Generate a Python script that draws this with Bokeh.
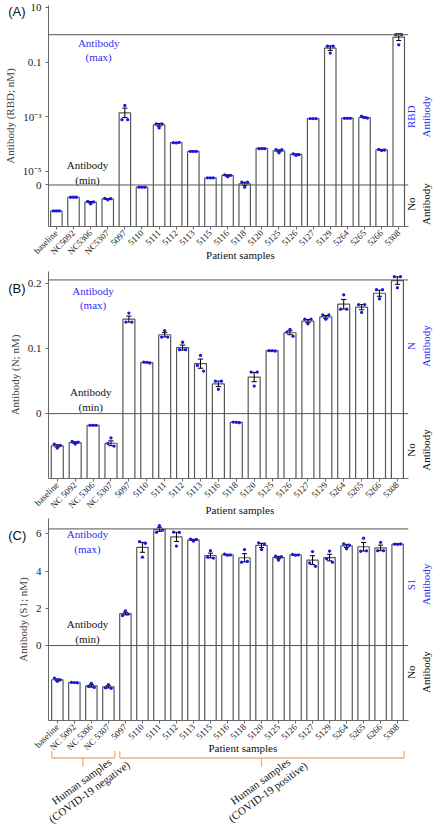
from math import pi, sqrt, sin, cos, radians
from statistics import stdev
from bokeh.plotting import figure
from bokeh.layouts import column
from bokeh.models import Range1d, FixedTicker, Span
from bokeh.core.properties import value
from bokeh.embed import file_html
from bokeh.resources import INLINE

# ---------------- data ----------------
# Panel A: RBD antibody, plotted on the chart's pseudo-log axis (log10 nM above the "0" line)
rbd_labels = ["baseline", "NC5092", "NC5306", "NC5307", "5097", "5110", "5111", "5112", "5113", "5115",
              "5116", "5118", "5120", "5125", "5126", "5127", "5129", "5264", "5265", "5266", "5308"]
rbd_bar = [-6.45, -5.95, -6.13, -6.01, -2.86, -5.58, -3.30, -3.95, -4.27, -5.24,
           -5.15, -5.46, -4.16, -4.25, -4.38, -3.07, -0.49, -3.05, -3.03, -4.21, -0.09]
rbd_rep1 = [-6.45, -5.95, -6.10, -5.99, -3.11, -5.58, -3.26, -3.95, -4.27, -5.24,
            -5.13, -5.40, -4.17, -4.21, -4.36, -3.07, -0.42, -3.06, -2.98, -4.20, 0.00]
rbd_rep2 = [-6.45, -5.95, -6.19, -6.04, -2.59, -5.58, -3.41, -3.96, -4.27, -5.24,
            -5.20, -5.58, -4.17, -4.32, -4.42, -3.07, -0.67, -3.06, -3.03, -4.24, -0.37]
rbd_rep3 = [-6.45, -5.95, -6.12, -6.00, -3.11, -5.58, -3.26, -3.94, -4.27, -5.24,
            -5.15, -5.40, -4.17, -4.21, -4.39, -3.07, -0.42, -3.06, -3.05, -4.22, 0.00]
rbd_ticks = [1, -1, -3, -5, -5.5]
rbd_tick_labels = ["10", "0.1", "10\u207b\u00b3", "10\u207b\u2075", "0"]
rbd_max_level = 0.0
rbd_zero_level = -5.5

# Panel B: N antibody (nM)
n_labels = ["baseline", "NC 5092", "NC 5306", "NC 5307", "5097", "5110", "5111", "5112", "5113", "5116",
            "5118", "5120", "5125", "5126", "5127", "5129", "5264", "5265", "5266", "5308"]
n_bar = [-0.0498, -0.0446, -0.018, -0.0457, 0.1456, 0.0788, 0.1215, 0.1018, 0.077, 0.0458,
         -0.0135, 0.0563, 0.097, 0.1246, 0.1425, 0.149, 0.1686, 0.164, 0.1855, 0.205]
n_rep1 = [-0.047, -0.043, -0.018, -0.046, 0.141, 0.0795, 0.118, 0.0985, 0.0743, 0.050,
          -0.013, 0.064, 0.097, 0.1256, 0.1455, 0.152, 0.161, 0.168, 0.191, 0.211]
n_rep2 = [-0.053, -0.047, -0.018, -0.0375, 0.155, 0.079, 0.128, 0.110, 0.0897, 0.0374,
          -0.0135, 0.0425, 0.097, 0.1297, 0.1384, 0.1455, 0.183, 0.156, 0.177, 0.194]
n_rep3 = [-0.049, -0.044, -0.018, -0.050, 0.141, 0.078, 0.118, 0.0985, 0.0655, 0.050,
          -0.014, 0.064, 0.0965, 0.1194, 0.1455, 0.152, 0.161, 0.168, 0.191, 0.211]
n_ticks = [0.2, 0.1, 0]
n_tick_labels = ["0.2", "0.1", "0"]
n_max_level = 0.206
n_zero_level = 0.0

# Panel C: S1 antibody (nM)
s1_labels = ["baseline", "NC 5092", "NC 5306", "NC 5307", "5097", "5110", "5111", "5112", "5113", "5115",
             "5116", "5118", "5120", "5125", "5126", "5127", "5129", "5264", "5265", "6266", "5308"]
s1_bar = [-1.84, -1.99, -2.17, -2.22, 1.72, 5.28, 6.25, 5.84, 5.68, 4.84,
          4.88, 4.72, 5.38, 4.73, 4.88, 4.59, 4.73, 5.36, 5.31, 5.25, 5.45]
s1_rep1 = [-1.75, -1.98, -2.20, -2.27, 1.61, 5.59, 6.09, 6.10, 5.72, 4.75,
           4.92, 4.48, 5.52, 4.80, 4.90, 4.44, 4.66, 5.47, 5.07, 5.10, 5.45]
s1_rep2 = [-1.92, -1.99, -2.03, -2.10, 1.86, 4.75, 6.45, 5.35, 5.62, 5.10,
           4.86, 5.16, 5.16, 4.60, 4.86, 5.05, 5.08, 5.20, 5.77, 5.55, 5.44]
s1_rep3 = [-1.85, -2.00, -2.25, -2.30, 1.69, 5.50, 6.20, 6.08, 5.70, 4.70,
           4.87, 4.52, 5.47, 4.78, 4.88, 4.26, 4.48, 5.40, 5.09, 5.10, 5.46]
s1_ticks = [6, 4, 2, 0]
s1_tick_labels = ["6", "4", "2", "0"]
s1_max_level = 6.27
s1_zero_level = 0.0

group_line1 = ["Human samples", "Human samples"]
group_line2 = ["(COVID-19 negative)", "(COVID-19 positive)"]
group_first = [0, 4]
group_last = [3, 20]

# ---------------- style / layout ----------------
SERIF = "Liberation Serif"
SANS = "Liberation Sans"
BLUE = "#2f2ff2"
DOT = "#1717e8"
AXIS = "#6a6a6a"
BARLINE = "#585858"
REFLINE = "#555555"
ORANGE = "#f3b07a"

W = 433
BL, BR = 42, 25
FW = W - BL - BR
OFFS = [-0.17, 0.0, 0.17]


def free_text(p, x, y, text, color, size="11px", font=SERIF, angle=0.0, align="center",
              baseline="middle"):
    # drawn at overlay level so that it is not clipped to the frame
    src = dict(x=[x], y=[y], text=[text], angle=[radians(angle)])
    p.text(x="x", y="y", text="text", angle="angle", source=src, text_color=color,
           text_font=value(font), text_font_size=size, text_align=align, text_baseline=baseline,
           text_line_height=1.2, level="overlay")


def panel(labels, bars, reps, ticks, tick_labels, max_level, zero_level, cfg):
    n = len(labels)
    xr, yr = cfg["xr"], cfg["yr"]
    top, fh, bottom = cfg["top"], cfg["fh"], cfg["bottom"]
    xpp = (xr[1] - xr[0]) / FW
    ypp = (yr[1] - yr[0]) / fh
    p = figure(width=W, height=top + fh + bottom, x_range=Range1d(*xr), y_range=Range1d(*yr),
               output_backend="svg", toolbar_location=None,
               min_border_left=BL, min_border_right=BR, min_border_top=top, min_border_bottom=bottom)
    p.outline_line_color = None
    p.grid.visible = False
    p.background_fill_color = "white"

    xs = list(range(n))
    p.vbar(x=xs, top=bars, bottom=yr[0], width=0.67, fill_color="white",
           line_color=BARLINE, line_width=1.2)

    sem = [stdev(v) / sqrt(len(v)) for v in zip(*reps)]
    lo = [b - s for b, s in zip(bars, sem)]
    hi = [b + s for b, s in zip(bars, sem)]
    p.segment(x0=xs, y0=lo, x1=xs, y1=hi, line_color="black", line_width=1)
    cl = [x - 0.15 for x in xs]
    cr = [x + 0.15 for x in xs]
    p.segment(x0=cl + cl, y0=lo + hi, x1=cr + cr, y1=lo + hi, line_color="black", line_width=1)

    for off, rep in zip(OFFS, reps):
        p.scatter(x=[x + off for x in xs], y=rep, size=3.3, fill_color=DOT, line_color=None)

    p.add_layout(Span(location=max_level, dimension="width", line_color=REFLINE, line_width=1))
    p.add_layout(Span(location=zero_level, dimension="width", line_color=REFLINE, line_width=1))

    yax = p.yaxis[0]
    yax.ticker = FixedTicker(ticks=ticks, minor_ticks=[])
    yax.major_label_overrides = {t: l for t, l in zip(ticks, tick_labels)}
    yax.axis_label = cfg["ylabel"]
    yax.axis_label_text_font = SERIF
    yax.axis_label_text_font_size = "11px"
    yax.axis_label_text_font_style = "normal"
    yax.axis_label_standoff = 4
    yax.major_label_text_font = SERIF
    yax.major_label_text_font_size = "11px"
    yax.major_label_standoff = 4
    yax.major_tick_in = 0
    yax.major_tick_out = 3

    xax = p.xaxis[0]
    xax.ticker = FixedTicker(ticks=xs, minor_ticks=[])
    xax.major_label_overrides = {i: l for i, l in enumerate(labels)}
    xax.major_label_orientation = pi / 4
    xax.major_label_text_font = SERIF
    xax.major_label_text_font_size = "9px"
    xax.major_label_standoff = 2
    xax.major_tick_in = 0
    xax.major_tick_out = 3

    for ax in (xax, yax):
        ax.axis_line_color = AXIS
        ax.major_tick_line_color = AXIS
        ax.major_label_text_color = "#222222"

    free_text(p, xr[0] - (BL - 1) * xpp, yr[1] + cfg["tag_dy"] * ypp, cfg["tag"], "#111111",
              size="13px", font=SANS, align="left", baseline="top")
    mx, my = cfg["max_pos"]
    free_text(p, mx, my, "Antibody\n(max)", BLUE)
    nx, ny = cfg["min_pos"]
    free_text(p, nx, ny, "Antibody\n(min)", "#111111")
    rx = xr[1] + 10 * xpp
    free_text(p, rx, cfg["ab_y"], cfg["ab_name"] + "\nAntibody", BLUE, angle=90)
    free_text(p, rx, cfg["no_y"], "No\nAntibody", "#111111", angle=90)
    free_text(p, cfg["xlab_x"], yr[0] - cfg["xlab_dy"] * ypp, "Patient samples", "#111111")
    return p, xpp, ypp


cfgA = dict(xr=(-0.46, 20.57), yr=(-7.02, 1.07), top=5, fh=221, bottom=38,
            ylabel="Antibody (RBD; nM)", tag="(A)", tag_dy=2,
            max_pos=(2.47, -0.56), min_pos=(1.82, -5.04), ab_name="RBD", ab_y=-3.0, no_y=-6.2,
            xlab_x=10.75, xlab_dy=28)
cfgB = dict(xr=(-0.49, 19.62), yr=(-0.1, 0.219), top=7, fh=207, bottom=38,
            ylabel="Antibody (N; nM)", tag="(B)", tag_dy=-9,
            max_pos=(2.0, 0.178), min_pos=(1.87, 0.022), ab_name="N", ab_y=0.104, no_y=-0.056,
            xlab_x=10.2, xlab_dy=31)
cfgC = dict(xr=(-0.52, 20.64), yr=(-4.03, 6.83), top=2, fh=202, bottom=104,
            ylabel="Antibody (S1; nM)", tag="(C)", tag_dy=-9,
            max_pos=(1.77, 5.59), min_pos=(1.77, 0.76), ab_name="S1", ab_y=3.28, no_y=-1.43,
            xlab_x=10.9, xlab_dy=27)

pA, _, _ = panel(rbd_labels, rbd_bar, [rbd_rep1, rbd_rep2, rbd_rep3], rbd_ticks, rbd_tick_labels,
                 rbd_max_level, rbd_zero_level, cfgA)
pB, _, _ = panel(n_labels, n_bar, [n_rep1, n_rep2, n_rep3], n_ticks, n_tick_labels,
                 n_max_level, n_zero_level, cfgB)
pC, cxpp, cypp = panel(s1_labels, s1_bar, [s1_rep1, s1_rep2, s1_rep3], s1_ticks, s1_tick_labels,
                       s1_max_level, s1_zero_level, cfgC)

# group braces under panel C
yb = cfgC["yr"][0]
y_end = yb - 30.5 * cypp
y_hor = yb - 37.5 * cypp
y_tip = yb - 46 * cypp
sx0, sy0, sx1, sy1 = [], [], [], []
for g0, g1 in zip(group_first, group_last):
    a, b, m = g0 - 0.33, g1 + 0.38, (g0 + g1) / 2
    for seg in [(a, y_end, a, y_hor), (a, y_hor, b, y_hor), (b, y_hor, b, y_end), (m, y_hor, m, y_tip)]:
        sx0.append(seg[0]); sy0.append(seg[1]); sx1.append(seg[2]); sy1.append(seg[3])
pC.segment(x0=sx0, y0=sy0, x1=sx1, y1=sy1, line_color=ORANGE, line_width=1.3, level="overlay")

# rotated two-line group captions
ANG = 36.0
SPACING = 13.0
dx_down, dy_down = sin(radians(ANG)), -cos(radians(ANG))
for l1, l2, g0, g1 in zip(group_line1, group_line2, group_first, group_last):
    m = (g0 + g1) / 2
    cx, cy = m + 2.5 * cxpp, y_tip - 20 * cypp
    for txt, k in ((l1, -0.5), (l2, 0.5)):
        free_text(pC, cx + k * SPACING * dx_down * cxpp, cy + k * SPACING * dy_down * cypp, txt,
                  "#111111", size="11px", angle=ANG)

layout = column(pA, pB, pC, spacing=0)
open("out.html", "w").write(file_html(layout, INLINE))
